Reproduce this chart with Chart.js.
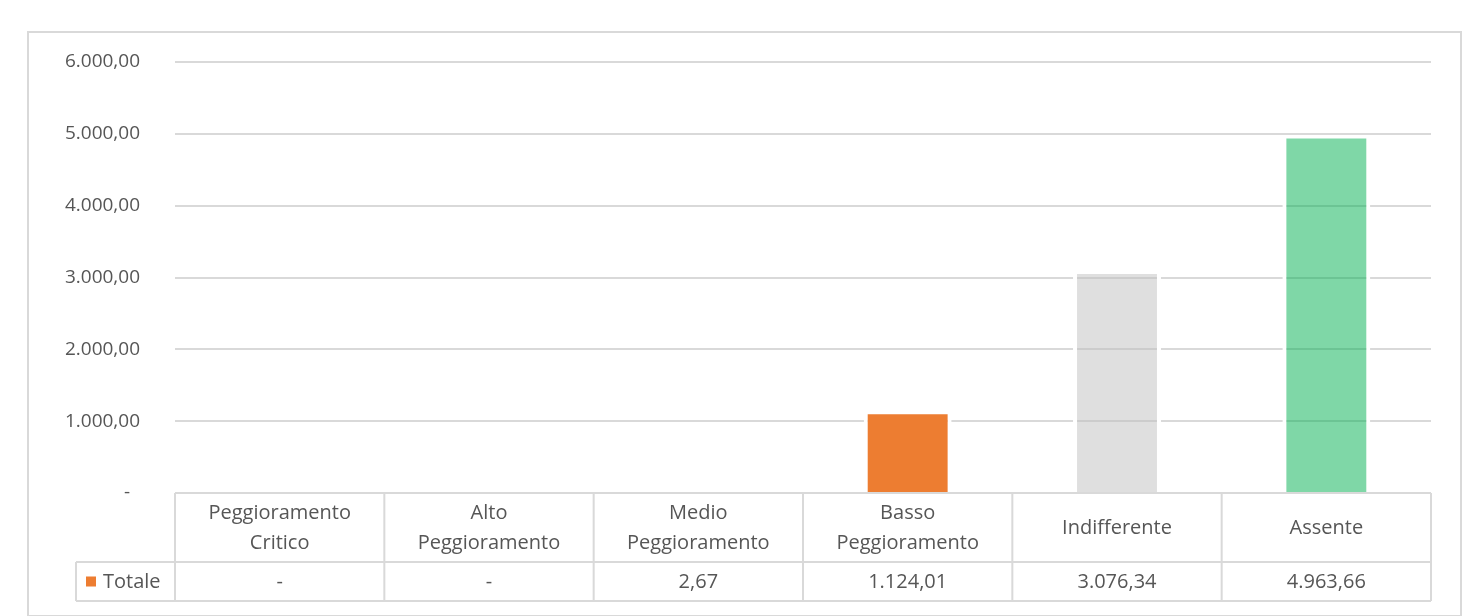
<!DOCTYPE html>
<html>
<head>
<meta charset="utf-8">
<script src="https://cdn.jsdelivr.net/npm/chart.js@4/dist/chart.umd.min.js"></script>
<style>
  html, body { margin: 0; padding: 0; background: #ffffff; }
  canvas { display: block; }
</style>
</head>
<body>
<canvas id="c" width="1476" height="616"></canvas>
<script>
const categories = ['Peggioramento Critico', 'Alto Peggioramento', 'Medio Peggioramento', 'Basso Peggioramento', 'Indifferente', 'Assente'];
const seriesName = 'Totale';
const totale = [0, 0, 2.67, 1124.01, 3076.34, 4963.66];
const barColors = ['#ED7D31', '#ED7D31', '#ED7D31', '#ED7D31', 'rgba(191,191,191,0.5)', 'rgba(0,176,80,0.5)'];
const yTicks = [0, 1000, 2000, 3000, 4000, 5000, 6000];

const FONT = '"Open Sans", Lato, sans-serif';
const TEXT = '#565656';
const LINE = '#D9D9D9';

function fmtIt(v) {
  if (v === 0) return '-';
  const neg = v < 0;
  const parts = Math.abs(v).toFixed(2).split('.');
  const int = parts[0].replace(/\B(?=(\d{3})+(?!\d))/g, '.');
  return (neg ? '-' : '') + int + ',' + parts[1];
}

const framePlugin = {
  id: 'frame',
  beforeDraw(chart) {
    const ctx = chart.ctx;
    ctx.save();
    ctx.strokeStyle = LINE;
    ctx.lineWidth = 2;
    ctx.strokeRect(28, 32, 1433, 584);
    ctx.restore();
  }
};

const tablePlugin = {
  id: 'dataTable',
  afterDraw(chart) {
    const ctx = chart.ctx;
    const area = chart.chartArea;
    const xs = chart.scales.x;
    const n = categories.length;
    const colW = (area.right - area.left) / n;
    const top = area.bottom;
    const headH = 69;
    const rowH = 39;
    const mid = top + headH;
    const bot = mid + rowH;
    const legLeft = 76;

    ctx.save();
    ctx.strokeStyle = LINE;
    ctx.lineWidth = 2;
    ctx.beginPath();
    ctx.moveTo(area.left, top); ctx.lineTo(area.right, top);
    ctx.moveTo(legLeft, mid); ctx.lineTo(area.right, mid);
    ctx.moveTo(legLeft, bot); ctx.lineTo(area.right, bot);
    for (let i = 0; i <= n; i++) {
      const x = area.left + i * colW;
      ctx.moveTo(x, top); ctx.lineTo(x, bot);
    }
    ctx.moveTo(legLeft, mid); ctx.lineTo(legLeft, bot);
    ctx.stroke();

    ctx.fillStyle = TEXT;
    ctx.font = '20px ' + FONT;
    ctx.textAlign = 'center';
    ctx.textBaseline = 'middle';
    categories.forEach((c, i) => {
      const cx = xs.getPixelForValue(i);
      const lines = c.split(' ');
      const lh = 30;
      const cy = top + headH / 2 + 1;
      lines.forEach((ln, k) => {
        ctx.fillText(ln, cx, cy + (k - (lines.length - 1) / 2) * lh);
      });
      ctx.fillText(fmtIt(totale[i]), cx, mid + rowH / 2 + 1);
    });

    ctx.fillStyle = '#ED7D31';
    ctx.fillRect(86, mid + rowH / 2 - 5, 10, 10);
    ctx.fillStyle = TEXT;
    ctx.textAlign = 'left';
    ctx.font = '20px ' + FONT;
    ctx.fillText(seriesName, 103, mid + rowH / 2 + 1);
    ctx.restore();
  }
};

new Chart(document.getElementById('c'), {
  type: 'bar',
  data: {
    labels: categories,
    datasets: [{
      label: seriesName,
      data: totale,
      backgroundColor: barColors,
      borderColor: '#ffffff',
      borderWidth: { left: 4, right: 4, top: 2, bottom: 0 },
      borderSkipped: 'start',
      barPercentage: 0.42,
      categoryPercentage: 1.0
    }]
  },
  options: {
    responsive: false,
    animation: false,
    layout: { padding: { left: 0, right: 45, top: 62, bottom: 123 } },
    plugins: { legend: { display: false }, tooltip: { enabled: false } },
    scales: {
      x: { display: false },
      y: {
        min: 0, max: 6000,
        afterBuildTicks(scale) { scale.ticks = yTicks.map(v => ({ value: v })); },
        afterFit(scale) { scale.width = 175; scale.paddingTop = 0; scale.paddingBottom = 0; },
        border: { display: false },
        grid: { color: LINE, lineWidth: 2, drawTicks: false },
        ticks: {
          padding: 35,
          color: TEXT,
          font: { family: FONT, size: 19 },
          callback: (v) => v === 0 ? '-  ' : fmtIt(v)
        }
      }
    }
  },
  plugins: [framePlugin, tablePlugin]
});
</script>
</body>
</html>
